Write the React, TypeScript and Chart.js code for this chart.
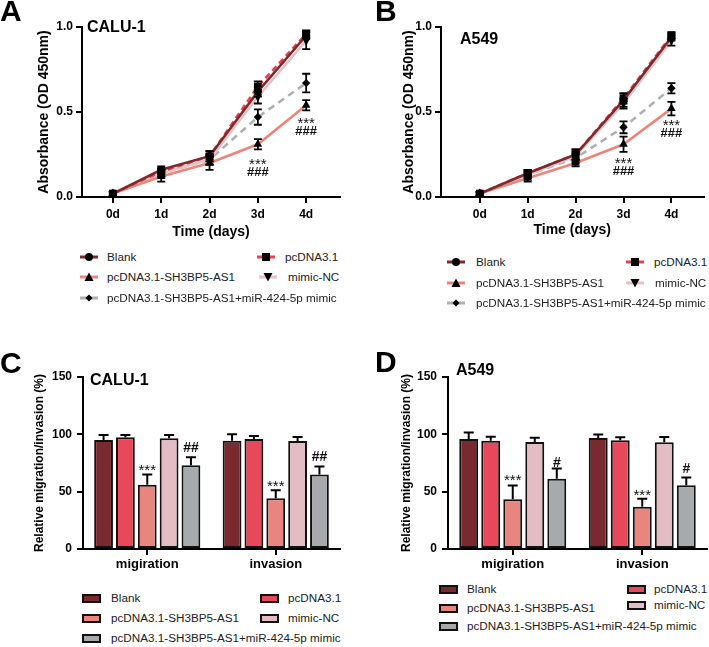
import React, { useEffect, useRef } from "react";
import { Chart, registerables } from "chart.js";

Chart.register(...registerables);

const FONT = "'Liberation Sans', Arial, Helvetica, sans-serif";

// ---------- DATA ----------
const seriesNames = [
  "Blank",
  "pcDNA3.1",
  "pcDNA3.1-SH3BP5-AS1",
  "mimic-NC",
  "pcDNA3.1-SH3BP5-AS1+miR-424-5p mimic",
];
const days = [0, 1, 2, 3, 4];
const dayLabels = ["0d", "1d", "2d", "3d", "4d"];
const lineYTicks = [0, 0.5, 1.0];
const barCategories = ["migiration", "invasion"];
const barYTicks = [0, 50, 100, 150];

// A: CALU-1 absorbance
const caluBlank = [0.02, 0.16, 0.24, 0.62, 0.95];
const caluPc = [0.02, 0.15, 0.24, 0.65, 0.96];
const caluAS1 = [0.02, 0.12, 0.2, 0.31, 0.54];
const caluNC = [0.02, 0.14, 0.22, 0.59, 0.92];
const caluMimic = [0.02, 0.14, 0.22, 0.47, 0.67];
const caluBlankErr = [0.01, 0.02, 0.03, 0.03, 0.02];
const caluPcErr = [0.01, 0.02, 0.03, 0.03, 0.02];
const caluAS1Err = [0.01, 0.03, 0.04, 0.03, 0.03];
const caluNCErr = [0.01, 0.02, 0.03, 0.04, 0.05];
const caluMimicErr = [0.01, 0.02, 0.03, 0.045, 0.055];

// B: A549 absorbance
const a549Blank = [0.02, 0.14, 0.25, 0.57, 0.94];
const a549Pc = [0.02, 0.14, 0.25, 0.58, 0.95];
const a549AS1 = [0.02, 0.11, 0.2, 0.31, 0.52];
const a549NC = [0.02, 0.13, 0.24, 0.55, 0.92];
const a549Mimic = [0.02, 0.13, 0.23, 0.41, 0.64];
const a549BlankErr = [0.01, 0.02, 0.03, 0.04, 0.02];
const a549PcErr = [0.01, 0.02, 0.03, 0.03, 0.02];
const a549AS1Err = [0.01, 0.02, 0.02, 0.045, 0.04];
const a549NCErr = [0.01, 0.02, 0.03, 0.03, 0.03];
const a549MimicErr = [0.01, 0.02, 0.03, 0.035, 0.03];

// significance label heights (at 3d, 4d)
const sigDays = [3, 4];
const caluStarY = [0.218, 0.457];
const caluHashY = [0.149, 0.39];
const a549StarY = [0.222, 0.449];
const a549HashY = [0.159, 0.378];

// C: CALU-1 migration / invasion (%)
const caluBarBlank = [95, 94.5];
const caluBarPc = [97.4, 96];
const caluBarAS1 = [56, 44.2];
const caluBarNC = [96.5, 94.2];
const caluBarMimic = [73, 65];
const caluBarBlankErr = [4.5, 5.5];
const caluBarPcErr = [2, 2.5];
const caluBarAS1Err = [9, 7];
const caluBarNCErr = [3, 3.5];
const caluBarMimicErr = [7, 7];
const caluBarStarY = [72.6, 58.2];
const caluBarHashY = [88.7, 81.1];

// D: A549 migration / invasion (%)
const a549BarBlank = [96, 96.8];
const a549BarPc = [94.5, 94.8];
const a549BarAS1 = [43.4, 36.8];
const a549BarNC = [93.4, 93.1];
const a549BarMimic = [61.2, 55.7];
const a549BarBlankErr = [5.5, 3];
const a549BarPcErr = [3.5, 2.6];
const a549BarAS1Err = [12, 7];
const a549BarNCErr = [3.7, 4.6];
const a549BarMimicErr = [9, 6.7];
const a549BarStarY = [63.7, 50.6];
const a549BarHashY = [76.1, 70.4];

// ---------- STYLE ----------
const lineColors = ["#7b2a2e", "#e8404f", "#ec857c", "#e6c2c7", "#aeb1b3"];
const lineDash = [[], [6, 4], [], [], [7, 5]];
const pointStyles = ["circle", "rect", "triangle", "triangle", "rectRot"];
const pointRadii = [4, 5.5, 5, 5, 4.2];
const pointRots = [0, 0, 0, 180, 0];
const barColors = ["#7a2a2f", "#e8495a", "#e8857f", "#e3bdc3", "#a6aaad"];
const LEGEND_SIZE = 11.7;

// ---------- PLUGINS ----------
const errorBarPlugin = {
  id: "errbars",
  afterDatasetsDraw(chart: any, _args: any, opts: any) {
    const { ctx } = chart;
    const ys = chart.scales.y;
    chart.data.datasets.forEach((ds: any, di: number) => {
      const errs = ds.errors;
      if (!errs) return;
      const meta = chart.getDatasetMeta(di);
      meta.data.forEach((el: any, i: number) => {
        const raw = ds.data[i];
        const val = typeof raw === "number" ? raw : raw.y;
        const e = errs[i];
        if (!e) return;
        const x = el.x;
        const yTop = ys.getPixelForValue(val + e);
        const yBot = opts.upOnly ? ys.getPixelForValue(val) : ys.getPixelForValue(val - e);
        ctx.save();
        ctx.strokeStyle = "#000";
        ctx.lineWidth = opts.lineWidth;
        ctx.beginPath();
        ctx.moveTo(x, yTop);
        ctx.lineTo(x, yBot);
        ctx.moveTo(x - opts.cap, yTop);
        ctx.lineTo(x + opts.cap, yTop);
        if (!opts.upOnly) {
          ctx.moveTo(x - opts.cap, yBot);
          ctx.lineTo(x + opts.cap, yBot);
        }
        ctx.stroke();
        ctx.restore();
      });
    });
  },
};

const marksPlugin = {
  id: "marks",
  afterDatasetsDraw(chart: any, _args: any, opts: any) {
    const { ctx } = chart;
    (opts.items || []).forEach((it: any) => {
      const x =
        it.ds !== undefined
          ? chart.getDatasetMeta(it.ds).data[it.idx].x
          : chart.scales.x.getPixelForValue(it.xv);
      const y = chart.scales.y.getPixelForValue(it.yv);
      const isStar = it.text[0] === "*";
      ctx.save();
      ctx.font = `${isStar ? "normal" : "bold"} ${it.size}px ${FONT}`;
      ctx.fillStyle = "#111";
      ctx.textAlign = "center";
      ctx.textBaseline = "alphabetic";
      ctx.fillText(it.text, x, y + (isStar ? 0.6 : 0.36) * it.size);
      ctx.restore();
    });
  },
};

const axisCommon = {
  grid: { display: true, drawOnChartArea: false, drawTicks: true, tickLength: 6, color: "#000", lineWidth: 2 },
  border: { display: true, color: "#000", width: 2 },
};

function lineConfig(p: any) {
  const vals = [p.blank, p.pc, p.as1, p.nc, p.mimic];
  const errs = [p.blankErr, p.pcErr, p.as1Err, p.ncErr, p.mimicErr];
  const items: any[] = [];
  sigDays.forEach((d, i) => {
    items.push({ xv: d, yv: p.starY[i], text: "***", size: 15 });
    items.push({ xv: d, yv: p.hashY[i], text: "###", size: 13 });
  });
  return {
    type: "line",
    data: {
      datasets: vals.map((v: number[], k: number) => ({
        label: seriesNames[k],
        data: days.map((d, i) => ({ x: d, y: v[i] })),
        errors: errs[k],
        borderColor: lineColors[k],
        borderWidth: 2.6,
        borderDash: lineDash[k],
        pointStyle: pointStyles[k],
        pointRadius: pointRadii[k],
        pointRotation: pointRots[k],
        pointBackgroundColor: "#000",
        pointBorderColor: "#000",
        pointBorderWidth: 0,
        tension: 0,
        fill: false,
        clip: false,
      })),
    },
    options: {
      responsive: false,
      animation: false,
      events: [],
      layout: { padding: p.pad },
      plugins: {
        legend: { display: false },
        tooltip: { enabled: false },
        errbars: { upOnly: false, cap: 4, lineWidth: 1.8 },
        marks: { items },
      },
      scales: {
        x: {
          type: "linear",
          min: p.xMin,
          max: p.xMax,
          afterBuildTicks: (s: any) => {
            s.ticks = days.map((v) => ({ value: v }));
          },
          afterFit: (s: any) => {
            s.height = p.xH;
          },
          ticks: {
            callback: (_v: any, i: number) => dayLabels[i],
            font: { family: FONT, size: 12, weight: "bold" },
            color: "#000",
            padding: 4,
            autoSkip: false,
            maxRotation: 0,
          },
          ...axisCommon,
          title: {
            display: true,
            text: "Time (days)",
            font: { family: FONT, size: 14, weight: "bold" },
            color: "#000",
            padding: { top: 4, bottom: 4 },
          },
        },
        y: {
          type: "linear",
          min: 0,
          max: 1,
          afterBuildTicks: (s: any) => {
            s.ticks = lineYTicks.map((v) => ({ value: v }));
          },
          afterFit: (s: any) => {
            s.width = p.yW;
          },
          ticks: {
            callback: (v: any) => Number(v).toFixed(1),
            font: { family: FONT, size: 12, weight: "bold" },
            color: "#000",
            padding: 3,
          },
          ...axisCommon,
          title: {
            display: true,
            text: "Absorbance (OD 450nm)",
            font: { family: FONT, size: 14, weight: "bold" },
            color: "#000",
            padding: { top: 4, bottom: 4 },
          },
        },
      },
    },
    plugins: [errorBarPlugin, marksPlugin],
  };
}

function barConfig(p: any) {
  const vals = [p.blank, p.pc, p.as1, p.nc, p.mimic];
  const errs = [p.blankErr, p.pcErr, p.as1Err, p.ncErr, p.mimicErr];
  const items: any[] = [];
  barCategories.forEach((_c, i) => {
    items.push({ ds: 2, idx: i, yv: p.starY[i], text: "***", size: 15 });
    items.push({ ds: 4, idx: i, yv: p.hashY[i], text: p.hash, size: 14 });
  });
  return {
    type: "bar",
    data: {
      labels: barCategories,
      datasets: vals.map((v: number[], k: number) => ({
        label: seriesNames[k],
        data: v,
        errors: errs[k],
        backgroundColor: barColors[k],
        borderColor: "#111",
        borderWidth: 2,
        borderSkipped: false,
        barPercentage: 0.86,
        categoryPercentage: 0.85,
      })),
    },
    options: {
      responsive: false,
      animation: false,
      events: [],
      layout: { padding: p.pad },
      plugins: {
        legend: { display: false },
        tooltip: { enabled: false },
        errbars: { upOnly: true, cap: 5, lineWidth: 2 },
        marks: { items },
      },
      scales: {
        x: {
          type: "category",
          offset: true,
          afterFit: (s: any) => {
            s.height = p.xH;
          },
          ticks: {
            font: { family: FONT, size: 13, weight: "bold" },
            color: "#000",
            padding: 2,
            maxRotation: 0,
          },
          ...axisCommon,
          grid: { ...axisCommon.grid, offset: false },
        },
        y: {
          type: "linear",
          min: 0,
          max: 150,
          afterBuildTicks: (s: any) => {
            s.ticks = barYTicks.map((v) => ({ value: v }));
          },
          afterFit: (s: any) => {
            s.width = p.yW;
          },
          ticks: {
            font: { family: FONT, size: 12, weight: "bold" },
            color: "#000",
            padding: 5,
          },
          ...axisCommon,
          title: {
            display: true,
            text: "Relative migration/invasion (%)",
            font: { family: FONT, size: 12, weight: "bold" },
            color: "#000",
            padding: { top: 4, bottom: 4 },
          },
        },
      },
    },
    plugins: [errorBarPlugin, marksPlugin],
  };
}

function ChartCanvas({ make, left, top, width, height }: any) {
  const ref = useRef<HTMLCanvasElement>(null);
  useEffect(() => {
    const chart = new Chart(ref.current as HTMLCanvasElement, make());
    return () => chart.destroy();
  }, []);
  return (
    <canvas
      ref={ref}
      width={width}
      height={height}
      style={{ position: "absolute", left, top, width, height }}
    />
  );
}

function Marker({ k }: { k: number }) {
  const c = "#000";
  let shape: any = null;
  if (k === 0) shape = <circle cx={9} cy={5} r={4} fill={c} />;
  else if (k === 1) shape = <rect x={5} y={1} width={8} height={8} fill={c} />;
  else if (k === 2) shape = <polygon points="9,0.5 13.5,9 4.5,9" fill={c} />;
  else if (k === 3) shape = <polygon points="4.5,1 13.5,1 9,9.5" fill={c} />;
  else shape = <polygon points="9,1.5 12.5,5 9,8.5 5.5,5" fill={c} />;
  return (
    <svg width={18} height={10} style={{ display: "block" }}>
      <line x1={0} y1={5} x2={18} y2={5} stroke={lineColors[k]} strokeWidth={3} />
      {shape}
    </svg>
  );
}

function Text({ x, y, size, bold, children, color }: any) {
  return (
    <div
      style={{
        position: "absolute",
        left: x,
        top: y - size * 0.49,
        fontFamily: FONT,
        fontSize: size,
        fontWeight: bold ? "bold" : "normal",
        lineHeight: `${size}px`,
        whiteSpace: "nowrap",
        color: color || "#000",
      }}
    >
      {children}
    </div>
  );
}

function LineLegend({ items }: any) {
  return (
    <>
      {items.map((it: any) => (
        <React.Fragment key={it.i}>
          <div style={{ position: "absolute", left: it.mx, top: it.y - 5 }}>
            <Marker k={it.i} />
          </div>
          <Text x={it.tx} y={it.y} size={LEGEND_SIZE} color="#222">
            {seriesNames[it.i]}
          </Text>
        </React.Fragment>
      ))}
    </>
  );
}

function BarLegend({ items }: any) {
  return (
    <>
      {items.map((it: any) => (
        <React.Fragment key={it.i}>
          <div
            style={{
              position: "absolute",
              left: it.mx,
              top: it.y - 4,
              width: 15,
              height: 5,
              background: barColors[it.i],
              border: "2px solid #111",
            }}
          />
          <Text x={it.tx} y={it.y} size={LEGEND_SIZE} color="#222">
            {seriesNames[it.i]}
          </Text>
        </React.Fragment>
      ))}
    </>
  );
}

const legendA = [
  { i: 0, mx: 80, tx: 107, y: 257 },
  { i: 1, mx: 257, tx: 285, y: 257 },
  { i: 2, mx: 80, tx: 107, y: 277 },
  { i: 3, mx: 259, tx: 288, y: 277 },
  { i: 4, mx: 80, tx: 107, y: 298 },
];
const legendB = [
  { i: 0, mx: 447, tx: 476, y: 262 },
  { i: 1, mx: 626, tx: 654, y: 262 },
  { i: 2, mx: 447, tx: 476, y: 283 },
  { i: 3, mx: 626, tx: 655, y: 283 },
  { i: 4, mx: 447, tx: 476, y: 303 },
];
const legendC = [
  { i: 0, mx: 82, tx: 111, y: 598 },
  { i: 1, mx: 260, tx: 288, y: 598 },
  { i: 2, mx: 82, tx: 111, y: 618 },
  { i: 3, mx: 260, tx: 288, y: 618 },
  { i: 4, mx: 82, tx: 111, y: 638 },
];
const legendD = [
  { i: 0, mx: 439, tx: 467, y: 589 },
  { i: 1, mx: 627, tx: 654, y: 589 },
  { i: 2, mx: 439, tx: 467, y: 608 },
  { i: 3, mx: 627, tx: 654, y: 605 },
  { i: 4, mx: 439, tx: 467, y: 626 },
];

export default function App() {
  return (
    <div
      style={{
        position: "absolute",
        left: 0,
        top: 0,
        width: 709,
        height: 647,
        background: "#fff",
        overflow: "hidden",
      }}
    >
      <ChartCanvas
        left={0}
        top={0}
        width={354}
        height={250}
        make={() =>
          lineConfig({
            blank: caluBlank, pc: caluPc, as1: caluAS1, nc: caluNC, mimic: caluMimic,
            blankErr: caluBlankErr, pcErr: caluPcErr, as1Err: caluAS1Err, ncErr: caluNCErr, mimicErr: caluMimicErr,
            starY: caluStarY, hashY: caluHashY,
            xMin: -0.64, xMax: 4.7,
            pad: { left: 32, right: 14, top: 27, bottom: 5 },
            yW: 50, xH: 48,
          })
        }
      />
      <ChartCanvas
        left={354}
        top={0}
        width={355}
        height={250}
        make={() =>
          lineConfig({
            blank: a549Blank, pc: a549Pc, as1: a549AS1, nc: a549NC, mimic: a549Mimic,
            blankErr: a549BlankErr, pcErr: a549PcErr, as1Err: a549AS1Err, ncErr: a549NCErr, mimicErr: a549MimicErr,
            starY: a549StarY, hashY: a549HashY,
            xMin: -0.81, xMax: 4.67,
            pad: { left: 43, right: 5, top: 27, bottom: 7 },
            yW: 44, xH: 46,
          })
        }
      />
      <ChartCanvas
        left={0}
        top={320}
        width={354}
        height={260}
        make={() =>
          barConfig({
            blank: caluBarBlank, pc: caluBarPc, as1: caluBarAS1, nc: caluBarNC, mimic: caluBarMimic,
            blankErr: caluBarBlankErr, pcErr: caluBarPcErr, as1Err: caluBarAS1Err, ncErr: caluBarNCErr, mimicErr: caluBarMimicErr,
            starY: caluBarStarY, hashY: caluBarHashY, hash: "##",
            pad: { left: 28, right: 14, top: 57, bottom: 0 },
            yW: 55, xH: 31,
          })
        }
      />
      <ChartCanvas
        left={354}
        top={320}
        width={355}
        height={260}
        make={() =>
          barConfig({
            blank: a549BarBlank, pc: a549BarPc, as1: a549BarAS1, nc: a549BarNC, mimic: a549BarMimic,
            blankErr: a549BarBlankErr, pcErr: a549BarPcErr, as1Err: a549BarAS1Err, ncErr: a549BarNCErr, mimicErr: a549BarMimicErr,
            starY: a549BarStarY, hashY: a549BarHashY, hash: "#",
            pad: { left: 41, right: 2, top: 57, bottom: 0 },
            yW: 53, xH: 31,
          })
        }
      />

      <Text x={0} y={11} size={30} bold>A</Text>
      <Text x={375} y={11} size={30} bold>B</Text>
      <Text x={0} y={363} size={30} bold>C</Text>
      <Text x={375} y={362} size={30} bold>D</Text>

      <Text x={87} y={27} size={16} bold>CALU-1</Text>
      <Text x={460} y={39} size={16} bold>A549</Text>
      <Text x={90} y={380} size={16} bold>CALU-1</Text>
      <Text x={456} y={370} size={16} bold>A549</Text>

      <LineLegend items={legendA} />
      <LineLegend items={legendB} />
      <BarLegend items={legendC} />
      <BarLegend items={legendD} />
    </div>
  );
}
